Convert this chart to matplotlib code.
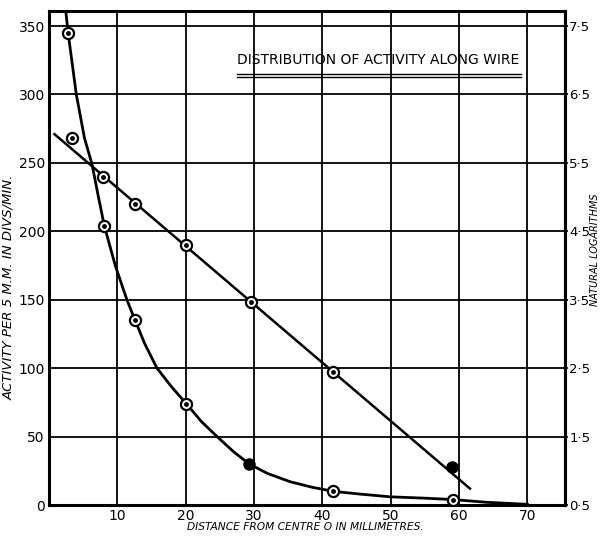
import matplotlib.pyplot as plt
import matplotlib.lines as mlines

plt.rcParams['font.family'] = ['Liberation Sans Narrow', 'DejaVu Sans']

# activity measurements (divs/min per 5 mm) against distance (mm)
act_x = [2.8, 8.1, 12.6, 20.1, 29.3, 41.6, 59.1]
act_y = [345, 204, 135, 74, 30, 10, 4]
act_filled = [False, False, False, False, True, False, False]

# hand-drawn smooth curve through the activity points
curve_x = [2.5, 2.8, 4.0, 5.2, 6.3, 7.2, 8.1, 9.7, 11.4, 12.6, 14.0, 15.8, 18.0, 20.1,
           22.3, 24.6, 27.0, 29.3, 32.0, 35.3, 38.5, 41.6, 45.5, 49.9, 55.0, 59.1, 64.0, 70.0]
curve_y = [359, 345, 300, 268, 249, 226, 204, 175, 150, 135, 118, 100, 86, 74,
           61, 50, 39, 30, 23, 17, 13, 10, 8, 6, 5, 4, 2, 0.5]

# natural logarithms plotted on the same scale (left value = 50 * (log - 0.5))
log_x = [3.3, 7.95, 12.6, 20.1, 29.5, 41.6, 59.0]
log_y = [268, 240, 220, 190, 148, 97, 28]
log_filled = [False, False, False, False, False, False, True]

# straight line drawn through the logarithm points
fit_x = [0.8, 61.6]
fit_y = [271, 12]

x_ticks = [10, 20, 30, 40, 50, 60, 70]
y_ticks = [0, 50, 100, 150, 200, 250, 300, 350]
log_labels = ['0·5', '1·5', '2·5', '3·5', '4·5', '5·5', '6·5', '7·5']

fig = plt.figure(figsize=(6.01, 5.36), dpi=100)
ax = fig.add_axes([0.0815, 0.0578, 0.8585, 0.9217])

ax.set_xlim(0, 75.5)
ax.set_ylim(0, 361)
ax.set_xticks(x_ticks)
ax.set_yticks(y_ticks)
ax.grid(True, color='black', linewidth=1.3)
ax.set_axisbelow(True)
for side in ['left', 'bottom', 'right', 'top']:
    ax.spines[side].set_linewidth(2.2)
ax.tick_params(length=0, labelsize=10, pad=3)

ax.plot(curve_x, curve_y, color='black', linewidth=2.0, zorder=3)
ax.plot(fit_x, fit_y, color='black', linewidth=1.8, zorder=3)

for xs, ys, filled in [(act_x, act_y, act_filled), (log_x, log_y, log_filled)]:
    for x, y, f in zip(xs, ys, filled):
        if f:
            ax.plot(x, y, 'o', ms=8, mfc='black', mec='black', zorder=4)
        else:
            ax.plot(x, y, 'o', ms=8, mfc='white', mec='black', mew=1.6, zorder=4)
            ax.plot(x, y, 'o', ms=2.5, color='black', zorder=5)

ax2 = ax.twinx()
ax2.set_ylim(ax.get_ylim())
ax2.set_yticks(y_ticks)
ax2.set_yticklabels(log_labels)
ax2.tick_params(length=2, width=1.2, labelsize=9.5, pad=1)
ax2.spines['right'].set_linewidth(2.2)

ax.set_ylabel('ACTIVITY PER 5 M.M. IN DIVS/MIN.', fontsize=9.5, style='italic')
ax.yaxis.set_label_coords(-0.066, 0.44)
ax2.set_ylabel('NATURAL LOGARITHMS', fontsize=7, style='italic', rotation=90)
ax2.yaxis.set_label_coords(1.049, 0.516)
ax.set_xlabel('DISTANCE FROM CENTRE O IN MILLIMETRES.', fontsize=7.7, style='italic')
ax.xaxis.set_label_coords(0.497, -0.035)

ax.text(0.365, 0.893, 'DISTRIBUTION OF ACTIVITY ALONG WIRE', transform=ax.transAxes,
        fontsize=10, ha='left', va='baseline')
for yy in [0.872, 0.866]:
    ax.add_line(mlines.Line2D([0.365, 0.9155], [yy, yy], transform=ax.transAxes,
                              color='black', linewidth=1.0))

fig.savefig('out.png', dpi=100)
